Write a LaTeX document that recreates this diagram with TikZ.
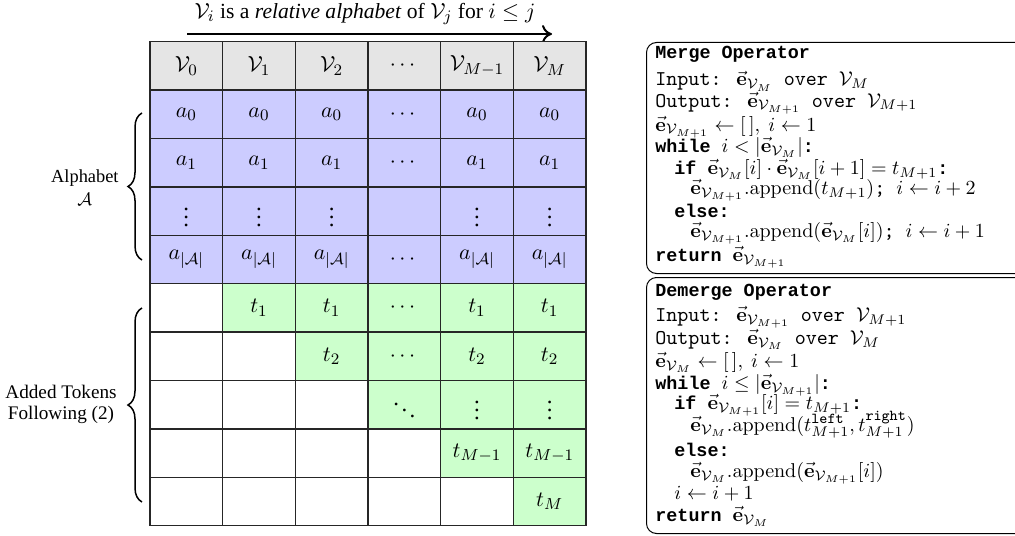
\documentclass[tikz,border=0pt]{standalone}
\usepackage{amsmath,amssymb}
\usepackage[no-math]{fontspec}
\setmainfont{Liberation Serif}
\newfontfamily\courbold{Liberation Mono}
\usetikzlibrary{decorations.pathreplacing,arrows.meta}
\newcommand{\ev}[1]{\vec{\mathbf{e}}_{#1}}
\newcommand{\cV}{\mathcal{V}}
\newcommand{\kw}[1]{{\fontsize{9.2}{11}\selectfont\courbold\bfseries #1}}
\newcommand{\rt}[1]{{\fontsize{10.5}{11}\selectfont\ttfamily #1}}
\newcommand{\sptt}[1]{\hbox{\fontsize{7.6}{8}\selectfont\ttfamily\mdseries #1}}
\newcommand{\app}{\mathrm{.append}}
\tikzset{
  cellbox/.style={draw=black!85, line width=0.75pt, minimum width=36.33pt, minimum height=24.2pt, inner sep=0pt, font=\fontsize{11.4}{13}\selectfont},
  lbl/.style={font=\fontsize{9.2}{11.5}\selectfont, align=center, inner sep=0pt},
  bracestyle/.style={decorate, decoration={brace, amplitude=7pt}, line width=0.75pt},
  opbox/.style={draw=black, line width=0.5pt, rounded corners=5pt},
  code/.style={anchor=base west, inner sep=0pt, font=\fontsize{9.7}{11}\selectfont},
}
\newcommand{\cellnode}[4]{\node[cellbox,fill=#3] (c-#1-#2) at ({150+72.67*(#2+0.5)},{41.7+48.4*(#1+0.5)}) {$#4$};}
\begin{document}
\begin{tikzpicture}[x=0.5pt,y=-0.5pt]
\useasboundingbox (0,0) rectangle (1015,535);
% title and arrow
\node[anchor=base, inner sep=0pt, font=\fontsize{10.8}{13}\selectfont] (title) at (365,18.5) {$\cV_i$ is a \textit{relative alphabet} of $\cV_j$ for $i \le j$};
\coordinate (arrA) at (187,34);
\coordinate (arrB) at (552,34);
\draw[line width=1pt, -{To[length=5pt,width=9pt]}] (arrA) -- (arrB);
% header
\cellnode{0}{0}{gray!20}{\cV_0}
\cellnode{0}{1}{gray!20}{\cV_1}
\cellnode{0}{2}{gray!20}{\cV_2}
\cellnode{0}{3}{gray!20}{\cdots}
\cellnode{0}{4}{gray!20}{\cV_{M-1}}
\cellnode{0}{5}{gray!20}{\cV_M}
% alphabet rows
\cellnode{1}{0}{blue!20}{a_0}
\cellnode{1}{1}{blue!20}{a_0}
\cellnode{1}{2}{blue!20}{a_0}
\cellnode{1}{3}{blue!20}{\cdots}
\cellnode{1}{4}{blue!20}{a_0}
\cellnode{1}{5}{blue!20}{a_0}
\cellnode{2}{0}{blue!20}{a_1}
\cellnode{2}{1}{blue!20}{a_1}
\cellnode{2}{2}{blue!20}{a_1}
\cellnode{2}{3}{blue!20}{\cdots}
\cellnode{2}{4}{blue!20}{a_1}
\cellnode{2}{5}{blue!20}{a_1}
\cellnode{3}{0}{blue!20}{\vdots}
\cellnode{3}{1}{blue!20}{\vdots}
\cellnode{3}{2}{blue!20}{\vdots}
\cellnode{3}{3}{blue!20}{}
\cellnode{3}{4}{blue!20}{\vdots}
\cellnode{3}{5}{blue!20}{\vdots}
\cellnode{4}{0}{blue!20}{a_{|\mathcal{A}|}}
\cellnode{4}{1}{blue!20}{a_{|\mathcal{A}|}}
\cellnode{4}{2}{blue!20}{a_{|\mathcal{A}|}}
\cellnode{4}{3}{blue!20}{\cdots}
\cellnode{4}{4}{blue!20}{a_{|\mathcal{A}|}}
\cellnode{4}{5}{blue!20}{a_{|\mathcal{A}|}}
% added tokens
\cellnode{5}{0}{white}{}
\cellnode{5}{1}{green!20}{t_1}
\cellnode{5}{2}{green!20}{t_1}
\cellnode{5}{3}{green!20}{\cdots}
\cellnode{5}{4}{green!20}{t_1}
\cellnode{5}{5}{green!20}{t_1}
\cellnode{6}{0}{white}{}
\cellnode{6}{1}{white}{}
\cellnode{6}{2}{green!20}{t_2}
\cellnode{6}{3}{green!20}{\cdots}
\cellnode{6}{4}{green!20}{t_2}
\cellnode{6}{5}{green!20}{t_2}
\cellnode{7}{0}{white}{}
\cellnode{7}{1}{white}{}
\cellnode{7}{2}{white}{}
\cellnode{7}{3}{green!20}{\ddots}
\cellnode{7}{4}{green!20}{\vdots}
\cellnode{7}{5}{green!20}{\vdots}
\cellnode{8}{0}{white}{}
\cellnode{8}{1}{white}{}
\cellnode{8}{2}{white}{}
\cellnode{8}{3}{white}{}
\cellnode{8}{4}{green!20}{t_{M-1}}
\cellnode{8}{5}{green!20}{t_{M-1}}
\cellnode{9}{0}{white}{}
\cellnode{9}{1}{white}{}
\cellnode{9}{2}{white}{}
\cellnode{9}{3}{white}{}
\cellnode{9}{4}{white}{}
\cellnode{9}{5}{green!20}{t_M}
% braces and labels
\coordinate (braA1) at (142,260);
\coordinate (braA2) at (142,113);
\draw[bracestyle] (braA1) -- (braA2);
\node[lbl, anchor=east] (alph) at (119,188) {Alphabet\\$\mathcal{A}$};
\coordinate (braT1) at (142,502);
\coordinate (braT2) at (142,308);
\draw[bracestyle] (braT1) -- (braT2);
\node[lbl, anchor=east, font=\fontsize{9.6}{10.5}\selectfont] (toks) at (117,404) {Added Tokens\\Following (2)};
% merge box
\node[opbox, anchor=north west, minimum width=200pt, minimum height=115.5pt, inner sep=0pt] (mbox) at (646,42) {};
\node[code] (m0) at (655,59) {\kw{Merge Operator}};
\node[code] (m1) at (655,86) {\rt{Input: }$\ev{\cV_M}$\rt{ over }$\cV_M$};
\node[code] (m2) at (655,107) {\rt{Output: }$\ev{\cV_{M+1}}$\rt{ over }$\cV_{M+1}$};
\node[code] (m3) at (655,131) {$\ev{\cV_{M+1}} \leftarrow [\,],\ i \leftarrow 1$};
\node[code] (m4) at (655,152) {\kw{while }$i < |\ev{\cV_M}|$\kw{:}};
\node[code] (m5) at (674,174) {\kw{if }$\ev{\cV_M}[i]\cdot\ev{\cV_M}[i+1] = t_{M+1}$\kw{:}};
\node[code] (m6) at (690,194) {$\ev{\cV_{M+1}}\app(t_{M+1})$\rt{; }$i \leftarrow i+2$};
\node[code] (m7) at (674,217) {\kw{else:}};
\node[code] (m8) at (690,237) {$\ev{\cV_{M+1}}\app(\ev{\cV_M}[i])$\rt{; }$i \leftarrow i+1$};
\node[code] (m9) at (655,261) {\kw{return }$\ev{\cV_{M+1}}$};
% demerge box
\node[opbox, anchor=north west, minimum width=200pt, minimum height=128pt, inner sep=0pt] (dbox) at (646,277) {};
\node[code] (d0) at (655,296) {\kw{Demerge Operator}};
\node[code] (d1) at (655,321) {\rt{Input: }$\ev{\cV_{M+1}}$\rt{ over }$\cV_{M+1}$};
\node[code] (d2) at (655,344) {\rt{Output: }$\ev{\cV_M}$\rt{ over }$\cV_M$};
\node[code] (d3) at (655,367) {$\ev{\cV_M} \leftarrow [\,],\ i \leftarrow 1$};
\node[code] (d4) at (655,389) {\kw{while }$i \le |\ev{\cV_{M+1}}|$\kw{:}};
\node[code] (d5) at (674,409) {\kw{if }$\ev{\cV_{M+1}}[i] = t_{M+1}$\kw{:}};
\node[code] (d6) at (690,431) {$\ev{\cV_M}\app(t_{M+1}^{\sptt{left}}, t_{M+1}^{\sptt{right}})$};
\node[code] (d7) at (674,456) {\kw{else:}};
\node[code] (d8) at (690,477) {$\ev{\cV_M}\app(\ev{\cV_{M+1}}[i])$};
\node[code] (d9) at (674,499) {$i \leftarrow i+1$};
\node[code] (d10) at (655,521) {\kw{return }$\ev{\cV_M}$};
\end{tikzpicture}
\end{document}
